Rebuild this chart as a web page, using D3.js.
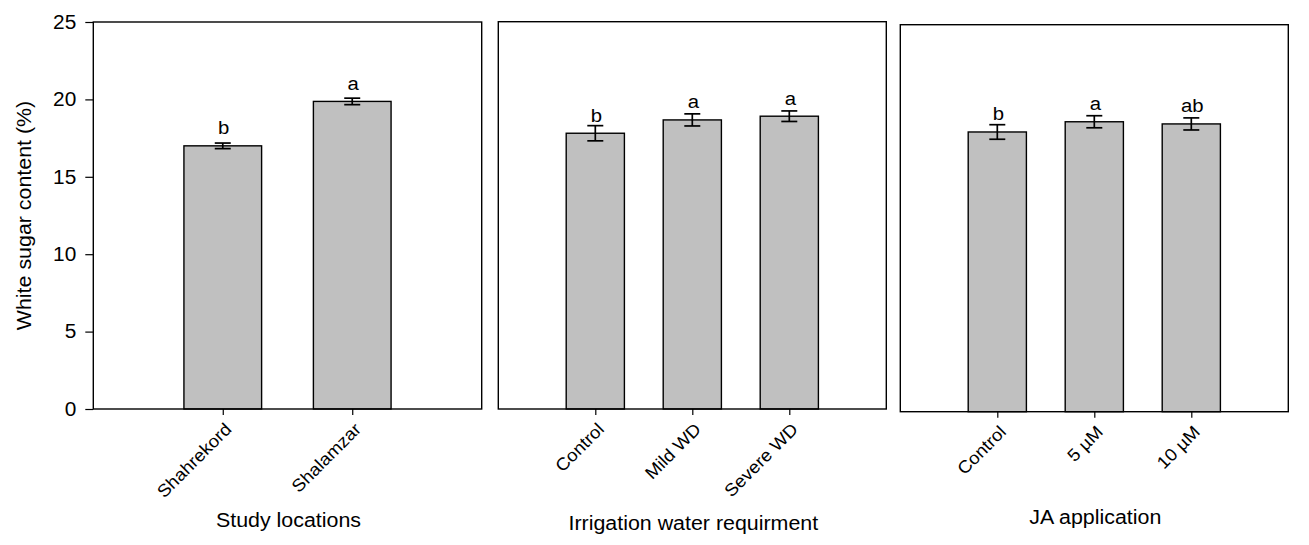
<!DOCTYPE html>
<html>
<head>
<meta charset="utf-8">
<script src="https://cdn.jsdelivr.net/npm/d3@7"></script>
<style>
  body { margin: 0; background: #fff; }
  svg { display: block; font-family: Arial, "Liberation Sans", sans-serif; }
</style>
</head>
<body>
<svg class="canvas" width="1309" height="545"></svg>
<script>
// values (white sugar content, %)
var locationNames = ['Shahrekord', 'Shalamzar'];
var locationMeans = [17.0, 19.87];
var locationErrors = [0.18, 0.21];
var locationLetters = ['b', 'a'];

var irrigationNames = ['Control', 'Mild WD', 'Severe WD'];
var irrigationMeans = [17.8, 18.66, 18.9];
var irrigationErrors = [0.49, 0.39, 0.34];
var irrigationLetters = ['b', 'a', 'a'];

var jaNames = ['Control', '5 µM', '10 µM'];
var jaMeans = [18.07, 18.73, 18.59];
var jaErrors = [0.47, 0.39, 0.39];
var jaLetters = ['b', 'a', 'ab'];

var yTicks = [0, 5, 10, 15, 20, 25];
var yLabel = 'White sugar content (%)';

var svg = d3.select('.canvas');
var STRETCH = 1.07; // the figure's font runs a little wider than Arial

function drawPanel(p) {
  var rows = p.names.map(function(n, i) {
    return { name: n, mean: p.means[i], err: p.errors[i], letter: p.letters[i] };
  });

  var x = d3.scalePoint().domain(p.names).range([p.left, p.right]).padding(1);
  var y = d3.scaleLinear().domain([0, 25]).range([p.bottom, p.top]);
  var barW = x.step() * 0.6;

  var g = svg.append('g');

  g.selectAll('.bar')
    .data(rows)
    .enter().append('rect')
    .attr('class', 'bar')
    .attr('x', function(d) { return x(d.name) - barW / 2; })
    .attr('y', function(d) { return y(d.mean); })
    .attr('width', barW)
    .attr('height', function(d) { return y(0) - y(d.mean); })
    .attr('fill', '#c0c0c0')
    .attr('stroke', '#000')
    .attr('stroke-width', 1.4);

  // error bars
  var eb = g.selectAll('.err')
    .data(rows)
    .enter().append('g')
    .attr('class', 'err')
    .attr('stroke', '#000')
    .attr('stroke-width', 1.7);
  eb.append('line')
    .attr('x1', function(d) { return x(d.name); })
    .attr('x2', function(d) { return x(d.name); })
    .attr('y1', function(d) { return y(d.mean - d.err); })
    .attr('y2', function(d) { return y(d.mean + d.err); });
  [-1, 1].forEach(function(s) {
    eb.append('line')
      .attr('x1', function(d) { return x(d.name) - 8; })
      .attr('x2', function(d) { return x(d.name) + 8; })
      .attr('y1', function(d) { return y(d.mean + s * d.err); })
      .attr('y2', function(d) { return y(d.mean + s * d.err); });
  });

  // significance letters
  g.selectAll('.letter')
    .data(rows)
    .enter().append('text')
    .attr('class', 'letter')
    .attr('transform', function(d) {
      return 'translate(' + (x(d.name) + 1) + ',' + (y(d.mean) - 11.5) + ') scale(' + STRETCH + ',1)';
    })
    .attr('text-anchor', 'middle')
    .attr('font-size', 19)
    .text(function(d) { return d.letter; });

  // frame
  g.append('rect')
    .attr('x', p.left)
    .attr('y', p.top)
    .attr('width', p.right - p.left)
    .attr('height', p.bottom - p.top)
    .attr('fill', 'none')
    .attr('stroke', '#000')
    .attr('stroke-width', 1.4);

  // x axis ticks + rotated labels
  var xAxis = g.append('g')
    .attr('transform', 'translate(0,' + p.bottom + ')')
    .call(d3.axisBottom(x).tickSize(6).tickSizeOuter(0));
  xAxis.select('.domain').remove();
  xAxis.selectAll('line').attr('stroke-width', 1.2);
  xAxis.selectAll('text')
    .attr('x', null)
    .attr('y', null)
    .attr('dy', '0.35em')
    .attr('text-anchor', 'end')
    .attr('font-family', null)
    .attr('font-size', 17.5)
    .attr('fill', '#000')
    .attr('transform', 'translate(5,17) rotate(-45) scale(' + STRETCH + ',1)');

  if (p.showY) {
    var yAxis = g.append('g')
      .attr('transform', 'translate(' + p.left + ',0)')
      .call(d3.axisLeft(y).tickValues(yTicks).tickSize(8).tickSizeOuter(0));
    yAxis.select('.domain').remove();
    yAxis.selectAll('line').attr('stroke-width', 1.2);
    yAxis.selectAll('text')
      .attr('font-family', null)
      .attr('font-size', 19.5)
      .attr('fill', '#000')
      .attr('x', -17 / STRETCH)
      .attr('transform', 'scale(' + STRETCH + ',1)');

    svg.append('text')
      .attr('transform', 'translate(31,' + ((p.top + p.bottom) / 2) + ') rotate(-90) scale(' + STRETCH + ',1)')
      .attr('text-anchor', 'middle')
      .attr('font-size', 20)
      .text(yLabel);
  }

  svg.append('text')
    .attr('transform', 'translate(' + ((p.left + p.right) / 2 + 1) + ',' + p.titleY + ') scale(' + STRETCH + ',1)')
    .attr('text-anchor', 'middle')
    .attr('font-size', 20)
    .text(p.title);
}

drawPanel({
  names: locationNames, means: locationMeans, errors: locationErrors, letters: locationLetters,
  title: 'Study locations', left: 93.3, right: 481.7, top: 22, bottom: 409, titleY: 527, showY: true
});
drawPanel({
  names: irrigationNames, means: irrigationMeans, errors: irrigationErrors, letters: irrigationLetters,
  title: 'Irrigation water requirment', left: 498.3, right: 886.3, top: 21.7, bottom: 409, titleY: 530, showY: false
});
drawPanel({
  names: jaNames, means: jaMeans, errors: jaErrors, letters: jaLetters,
  title: 'JA application', left: 900.3, right: 1288.3, top: 24.7, bottom: 411.7, titleY: 524, showY: false
});
</script>
</body>
</html>
